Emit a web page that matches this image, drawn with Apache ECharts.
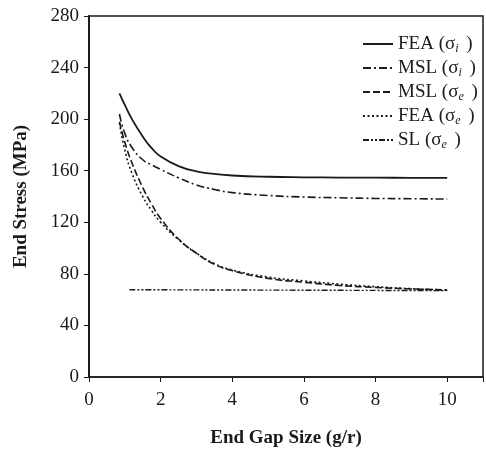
<!DOCTYPE html>
<html>
<head>
<meta charset="utf-8">
<script src="https://cdn.jsdelivr.net/npm/echarts@6/dist/echarts.min.js"></script>
<style>
	html, body { margin: 0; padding: 0; background: #fff; }
	#chart { width: 486px; height: 453px; }
</style>
</head>
<body>
<div id="chart"></div>
<script type="text/javascript">
	// 数据
	var gapX     = [0.85, 1.0, 1.2, 1.5, 1.75, 2.0, 2.5, 3.0, 3.5, 4.0, 5.0, 6.0, 7.0, 8.0, 9.0, 10.0];
	var feaInner = [220, 211, 200, 186.5, 177.5, 171, 163.5, 159.5, 157.5, 156.3, 155.3, 154.9, 154.7, 154.6, 154.5, 154.5];
	var mslInner = [204, 189, 178, 168.5, 164.5, 161, 154.5, 149, 145.5, 143, 140.8, 139.6, 139, 138.5, 138.3, 138];
	var mslEnd   = [198, 182, 166, 147, 134, 123, 107, 96, 87.5, 82.5, 76.5, 73.5, 71, 69.5, 68.3, 67.5];
	var feaEnd   = [197, 176, 158, 140, 129, 120, 106.5, 96, 88, 83, 77.5, 74.5, 72, 70, 68.5, 67.5];
	var slX      = [1.13, 10.0];
	var slEnd    = [67.7, 67.0];
	var xTicks   = [0, 2, 4, 6, 8, 10];
	var yTicks   = [0, 40, 80, 120, 160, 200, 240, 280];

	function pairs(xs, ys){
		var out = [];
		for (var i = 0; i < xs.length; i++) out.push([xs[i], ys[i]]);
		return out;
	}

	var ink = '#1a1a1a';
	var font = '"Liberation Serif", "DejaVu Serif", serif';

	function lineSeries(name, xs, ys, type, width){
		return {
			name: name,
			type: 'line',
			data: pairs(xs, ys),
			symbol: 'none',
			showSymbol: false,
			smooth: true,
			lineStyle: { color: ink, width: width, type: type },
			itemStyle: { color: ink }
		};
	}

	var myChart = echarts.init(document.getElementById('chart'), null, { renderer: 'canvas' });
	var option = {
		animation: false,
		backgroundColor: '#fff',
		grid: {
			left: 89, top: 16, width: 399, height: 364,
			show: true, borderColor: ink, borderWidth: 1.5, backgroundColor: 'transparent'
		},
		legend: {
			orient: 'vertical',
			left: 357, top: 29,
			itemWidth: 30, itemHeight: 14, itemGap: 3.5,
			itemStyle: { opacity: 0 },
			textStyle: {
				fontFamily: font, fontSize: 19, color: ink, lineHeight: 20,
				rich: {
					g: { fontFamily: font, fontSize: 19, color: ink },
					s: { fontFamily: font, fontSize: 12, fontStyle: 'italic', color: ink, padding: [9, 3, 0, 0] }
				}
			},
			formatter: function(name){
				return name.replace(/σ([ie])/, '{g|σ}{s|$1}');
			},
			data: ['FEA (σi )', 'MSL (σi )', 'MSL (σe )', 'FEA (σe )', 'SL (σe )']
		},
		xAxis: {
			type: 'value',
			min: 0, max: 11, interval: 2,
			name: 'End Gap Size (g/r)',
			nameLocation: 'middle', nameGap: 52,
			nameTextStyle: { fontFamily: font, fontSize: 19, fontWeight: 'bold', color: ink },
			axisLine: { lineStyle: { color: ink, width: 1.5 } },
			axisTick: { length: 5, lineStyle: { color: ink } },
			axisLabel: {
				margin: 14, fontFamily: font, fontSize: 19, color: ink,
				formatter: function(v){ return xTicks.indexOf(v) >= 0 ? String(v) : ''; }
			},
			splitLine: { show: false }
		},
		yAxis: {
			type: 'value',
			min: 0, max: 280, interval: 40,
			name: 'End Stress (MPa)',
			nameLocation: 'middle', nameGap: 58, nameRotate: 90,
			nameTextStyle: { fontFamily: font, fontSize: 19, fontWeight: 'bold', color: ink },
			axisLine: { lineStyle: { color: ink, width: 2 } },
			axisTick: { length: 5, lineStyle: { color: ink } },
			axisLabel: {
				margin: 10, fontFamily: font, fontSize: 19, color: ink,
				formatter: function(v){ return yTicks.indexOf(v) >= 0 ? String(v) : ''; }
			},
			splitLine: { show: false }
		},
		series: [
			lineSeries('FEA (σi )', gapX, feaInner, 'solid', 1.8),
			lineSeries('MSL (σi )', gapX, mslInner, [8, 3, 2, 3], 1.6),
			lineSeries('MSL (σe )', gapX, mslEnd, [7, 3], 1.6),
			lineSeries('FEA (σe )', gapX, feaEnd, [2, 2.5], 1.6),
			lineSeries('SL (σe )', slX, slEnd, [6, 2, 2, 2, 2, 2], 1.4)
		]
	};
	myChart.setOption(option);
</script>
</body>
</html>
